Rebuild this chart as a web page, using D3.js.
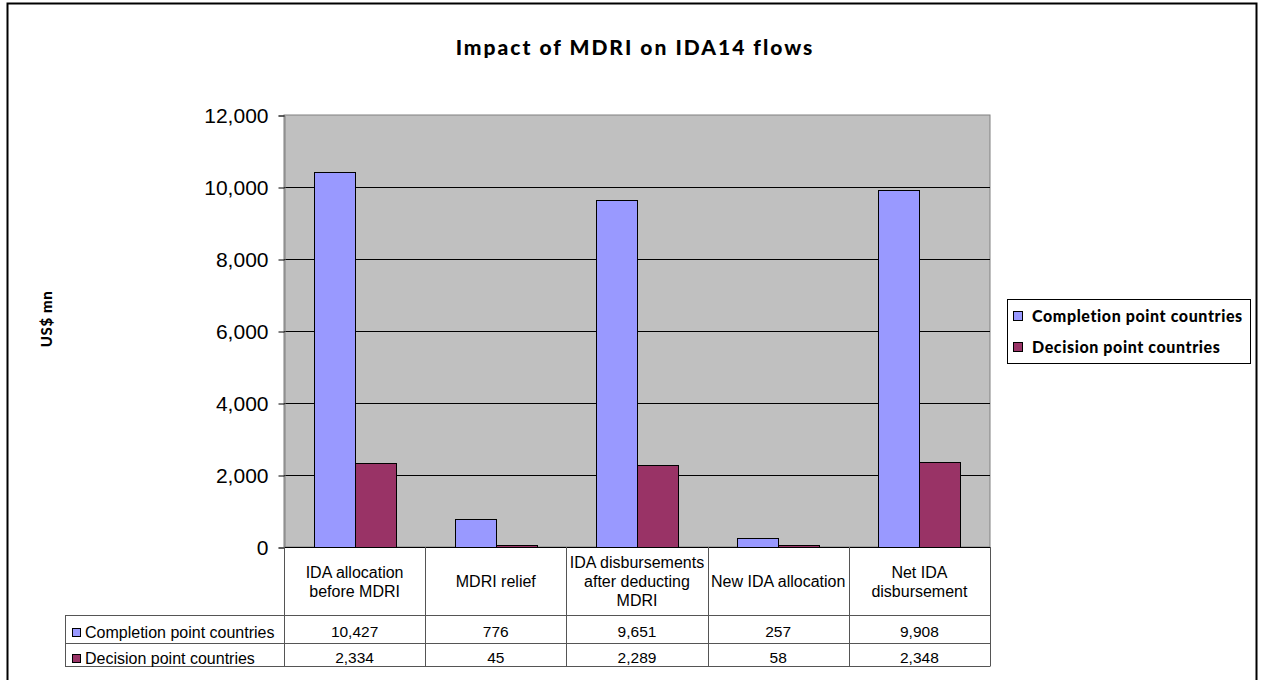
<!DOCTYPE html>
<html>
<head>
<meta charset="utf-8">
<script src="https://cdn.jsdelivr.net/npm/d3@7"></script>
<style>
  html, body { margin: 0; padding: 0; background: #fff; }
  svg { display: block; }
</style>
</head>
<body>
<svg id="chart" width="1263" height="680"></svg>
<script>
// ---- data ----
const categories = [
  ["IDA allocation", "before MDRI"],
  ["MDRI relief"],
  ["IDA disbursements", "after deducting", "MDRI"],
  ["New IDA allocation"],
  ["Net IDA", "disbursement"]
];
const seriesNames = ["Completion point countries", "Decision point countries"];
const completion = [10427, 776, 9651, 257, 9908];
const decision = [2334, 45, 2289, 58, 2348];
const yTicks = [0, 2000, 4000, 6000, 8000, 10000, 12000];
const titleText = "Impact of MDRI on IDA14 flows";
const yLabel = "US$ mn";

// ---- layout ----
const svg = d3.select("#chart");
const colors = ["#9999FF", "#993366"];
const plot = { left: 284, right: 990, top: 115, bottom: 547 };
const table = { left: 65, row1: 615, row2: 643, bottom: 666 };
const titleFont = "Lato, 'DejaVu Sans', sans-serif";
const arial = "'Liberation Sans', Arial, sans-serif";

// outer border
svg.append("rect").attr("x", 7.5).attr("y", 3.5).attr("width", 1249).attr("height", 700)
  .attr("fill", "none").attr("stroke", "#000").attr("stroke-width", 2);

// title
svg.append("text").attr("x", 635).attr("y", 55).attr("text-anchor", "middle")
  .attr("font-family", titleFont).attr("font-weight", "900").attr("font-size", 21)
  .attr("letter-spacing", 2).text(titleText);

const keys = d3.range(categories.length);
const x = d3.scaleBand().domain(keys).range([plot.left, plot.right]).padding(0);
const xs = d3.scaleBand().domain([0, 1]).range([0, x.bandwidth()]).paddingInner(0).paddingOuter(0.72);
const y = d3.scaleLinear().domain([0, 12000]).range([plot.bottom, plot.top]);

// plot area
svg.append("rect").attr("x", plot.left).attr("y", plot.top)
  .attr("width", plot.right - plot.left).attr("height", plot.bottom - plot.top)
  .attr("fill", "#C0C0C0").attr("stroke", "#808080").attr("stroke-width", 1);

// gridlines
svg.append("g").selectAll("line").data(yTicks.filter(d => d > 0 && d < 12000)).join("line")
  .attr("x1", plot.left).attr("x2", plot.right)
  .attr("y1", d => Math.round(y(d)) + 0.5).attr("y2", d => Math.round(y(d)) + 0.5)
  .attr("stroke", "#000").attr("stroke-width", 1);

// y axis
const yAxis = d3.axisLeft(y).tickValues(yTicks).tickFormat(d3.format(",")).tickSize(6).tickPadding(10);
const gy = svg.append("g").attr("transform", `translate(${plot.left + 0.5},0.5)`).call(yAxis);
gy.select(".domain").attr("stroke", "#808080");
gy.selectAll(".tick line").attr("stroke", "#000");
gy.selectAll(".tick text").attr("font-family", arial).attr("font-size", 21).attr("fill", "#000");

// y label
svg.append("text").attr("transform", "translate(52,319) rotate(-90)").attr("text-anchor", "middle")
  .attr("font-family", titleFont).attr("font-weight", "900").attr("font-size", 15)
  .attr("letter-spacing", 0.6).text(yLabel);

// bars
const series = [completion, decision];
series.forEach((vals, si) => {
  svg.append("g").selectAll("rect").data(vals).join("rect")
    .attr("x", (d, i) => Math.round(x(i) + xs(si)) + 0.5)
    .attr("y", d => Math.round(y(d)) + 0.5)
    .attr("width", Math.round(xs.bandwidth()))
    .attr("height", d => Math.round(y(0)) - Math.round(y(d)))
    .attr("fill", colors[si]).attr("stroke", "#000").attr("stroke-width", 1);
});

// x axis line
svg.append("line").attr("x1", plot.left).attr("x2", plot.right)
  .attr("y1", plot.bottom + 0.5).attr("y2", plot.bottom + 0.5).attr("stroke", "#000");

// data table
const tg = svg.append("g");
const lineColor = "#555";
const bounds = keys.map(i => x(i)).concat([plot.right]);
tg.selectAll("line.v").data(bounds).join("line")
  .attr("x1", d => Math.round(d) + 0.5).attr("x2", d => Math.round(d) + 0.5)
  .attr("y1", plot.bottom).attr("y2", table.bottom)
  .attr("stroke", lineColor);
tg.append("line").attr("x1", table.left + 0.5).attr("x2", table.left + 0.5)
  .attr("y1", table.row1).attr("y2", table.bottom).attr("stroke", lineColor);
[table.row1, table.row2, table.bottom].forEach(yy => {
  tg.append("line").attr("x1", table.left).attr("x2", plot.right + 0.5)
    .attr("y1", yy + 0.5).attr("y2", yy + 0.5).attr("stroke", lineColor);
});

// category labels
const headerMid = (plot.bottom + table.row1) / 2;
const lh = 19;
categories.forEach((lines, i) => {
  const cx = x(i) + x.bandwidth() / 2;
  const t = tg.append("text").attr("text-anchor", "middle")
    .attr("font-family", arial).attr("font-size", 16).attr("fill", "#000");
  lines.forEach((ln, k) => {
    t.append("tspan").attr("x", cx)
      .attr("y", headerMid + 6 + (k - (lines.length - 1) / 2) * lh)
      .text(ln);
  });
});

// values rows
const rowBase = [638, 664];
series.forEach((vals, si) => {
  tg.append("rect").attr("x", 72.5).attr("y", rowBase[si] - 9.5).attr("width", 8).attr("height", 8)
    .attr("fill", colors[si]).attr("stroke", "#000");
  tg.append("text").attr("x", 85).attr("y", rowBase[si])
    .attr("font-family", arial).attr("font-size", 16).attr("fill", "#000")
    .text(seriesNames[si]);
  tg.selectAll(null).data(vals).join("text")
    .attr("x", (d, i) => x(i) + x.bandwidth() / 2).attr("y", rowBase[si] - 1)
    .attr("text-anchor", "middle").attr("font-family", arial).attr("font-size", 15.5).attr("fill", "#000")
    .text(d => d3.format(",")(d));
});

// legend
const lg = svg.append("g");
lg.append("rect").attr("x", 1007.5).attr("y", 299.5).attr("width", 243).attr("height", 64)
  .attr("fill", "#fff").attr("stroke", "#000");
seriesNames.forEach((name, si) => {
  const cy = 316 + si * 31;
  lg.append("rect").attr("x", 1013.5).attr("y", cy - 4.5).attr("width", 9).attr("height", 9)
    .attr("fill", colors[si]).attr("stroke", "#000");
  lg.append("text").attr("x", 1032).attr("y", cy + 5.5)
    .attr("font-family", titleFont).attr("font-weight", "900").attr("font-size", 16)
    .attr("letter-spacing", 0.6).text(name);
});
</script>
</body>
</html>
